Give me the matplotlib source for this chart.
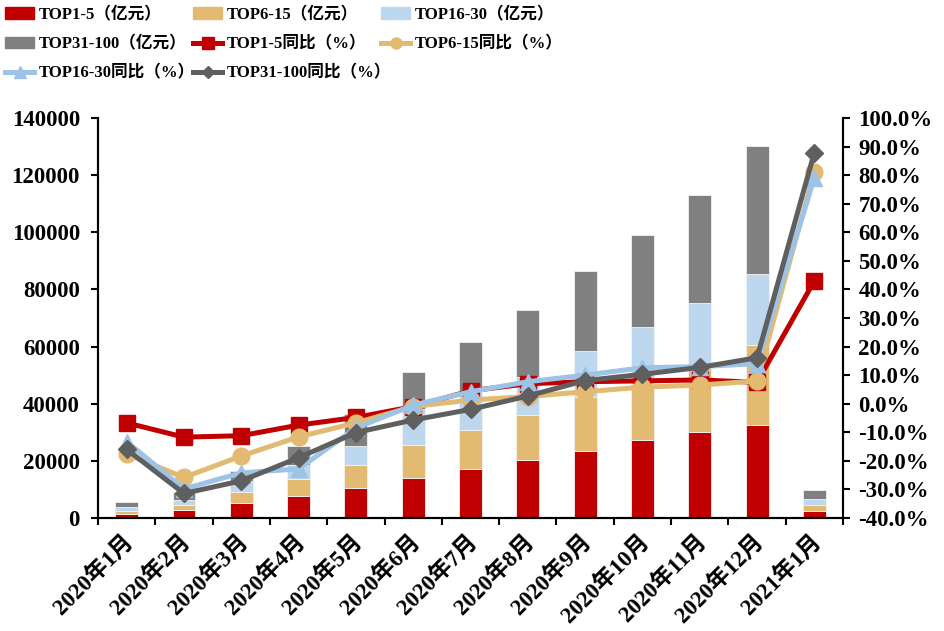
import numpy as np
import matplotlib.pyplot as plt
from matplotlib.patches import Patch
from matplotlib.lines import Line2D
from matplotlib.ticker import FuncFormatter

plt.rcParams['font.family'] = ['Liberation Serif', 'Noto Sans CJK SC']
plt.rcParams['font.weight'] = 'bold'

months = ['2020年1月', '2020年2月', '2020年3月', '2020年4月', '2020年5月', '2020年6月',
          '2020年7月', '2020年8月', '2020年9月', '2020年10月', '2020年11月', '2020年12月',
          '2021年1月']

# sales, 亿元
top1_5 = [1500, 2900, 5300, 7800, 10500, 14100, 17300, 20200, 23600, 27200, 30100, 32400, 2450]
top6_15 = [1100, 1700, 3900, 5700, 7900, 11400, 13600, 16000, 18900, 19800, 22400, 28100, 2100]
top16_30 = [1100, 1800, 3800, 5000, 6800, 12500, 13100, 13300, 15950, 20000, 22900, 24800, 1950]
top31_100 = [1800, 2600, 3500, 6800, 11200, 13000, 17700, 23400, 28000, 32000, 37600, 45000, 3200]

# yoy, %
yoy1_5 = [-6.7, -11.7, -11.2, -7.5, -4.8, -1.0, 4.5, 7.0, 7.7, 8.0, 8.3, 7.5, 43.0]
yoy6_15 = [-17.6, -25.8, -18.3, -11.6, -6.7, -1.0, 1.3, 2.5, 4.2, 5.8, 6.5, 8.0, 81.2]
yoy16_30 = [-13.3, -29.8, -24.2, -22.8, -8.5, -0.5, 4.2, 7.7, 10.0, 12.6, 13.0, 14.0, 79.0]
yoy31_100 = [-16.0, -31.4, -27.0, -18.9, -10.1, -5.7, -2.0, 2.7, 8.1, 10.3, 12.7, 16.1, 87.9]

c_red = '#C00000'
c_tan = '#E2BA72'
c_lb = '#BDD7EE'
c_lbline = '#9DC3E6'
c_gray = '#808080'
c_dgray = '#5F5F5F'

fig = plt.figure(figsize=(9.44, 6.31), dpi=100)
ax = fig.add_axes([98/944, 1-518/631, 745/944, 400/631])
ax2 = ax.twinx()

x = np.arange(len(months))
w = 0.4
b = np.zeros(len(months))
for vals, col in [(top1_5, c_red), (top6_15, c_tan), (top16_30, c_lb), (top31_100, c_gray)]:
    ax.bar(x, vals, w, bottom=b, color=col, edgecolor='#f2f2f2', linewidth=0.6)
    b = b + np.array(vals)

lw = 3.6
ax2.plot(x, yoy1_5, color=c_red, lw=lw, marker='s', ms=11)
ax2.plot(x, yoy6_15, color=c_tan, lw=lw, marker='o', ms=12)
ax2.plot(x, yoy16_30, color=c_lbline, lw=lw, marker='^', ms=12)
ax2.plot(x, yoy31_100, color=c_dgray, lw=lw, marker='D', ms=9)

ax.set_xlim(-0.5, len(months) - 0.5)
ax.set_ylim(0, 140000)
ax.set_yticks(np.arange(0, 140001, 20000))
ax2.set_ylim(-40, 100)
ax2.set_yticks(np.arange(-40, 101, 10))
ax2.yaxis.set_major_formatter(FuncFormatter(lambda v, p: '%.1f%%' % v))

ax.set_xticks(np.arange(len(months) + 1) - 0.5)
ax.set_xticklabels([])
ax.set_xticks(x + 0.06, minor=True)
ax.set_xticklabels(months, minor=True, rotation=45, ha='right', va='center',
                   rotation_mode='anchor', fontsize=16.5)
ax.tick_params(axis='x', which='minor', length=0, pad=15)
ax.tick_params(axis='x', which='major', length=5, width=1.5)
ax.tick_params(axis='y', length=5, width=1.5, labelsize=16.5, pad=8)
ax2.tick_params(axis='y', length=5, width=1.5, labelsize=16.5, pad=6)

for a in (ax, ax2):
    a.spines['top'].set_visible(False)
    for s in ('left', 'right', 'bottom'):
        a.spines[s].set_linewidth(1.5)

# legend, three columns placed by hand
h_bar = [Patch(color=c) for c in (c_red, c_tan, c_lb, c_gray)]
h_line = [Line2D([], [], color=c_red, lw=lw, marker='s', ms=8),
          Line2D([], [], color=c_tan, lw=lw, marker='o', ms=8),
          Line2D([], [], color=c_lbline, lw=lw, marker='^', ms=8),
          Line2D([], [], color=c_dgray, lw=lw, marker='D', ms=6)]
names = ['TOP1-5', 'TOP6-15', 'TOP16-30', 'TOP31-100']
lab_bar = [n + '（亿元）' for n in names]
lab_line = [n + '同比（%）' for n in names]

cols = [([h_bar[0], h_bar[3], h_line[2]], [lab_bar[0], lab_bar[3], lab_line[2]], 5),
        ([h_bar[1], h_line[0], h_line[3]], [lab_bar[1], lab_line[0], lab_line[3]], 193),
        ([h_bar[2], h_line[1]], [lab_bar[2], lab_line[1]], 381)]
for hs, ls, px in cols:
    fig.legend(hs, ls, loc='upper left', bbox_to_anchor=(px/944, 1 - 7/631),
               frameon=False, borderpad=0, borderaxespad=0, fontsize=12,
               handlelength=1.75, handletextpad=0.25, labelspacing=0.8)

fig.savefig('out.png', dpi=100)
